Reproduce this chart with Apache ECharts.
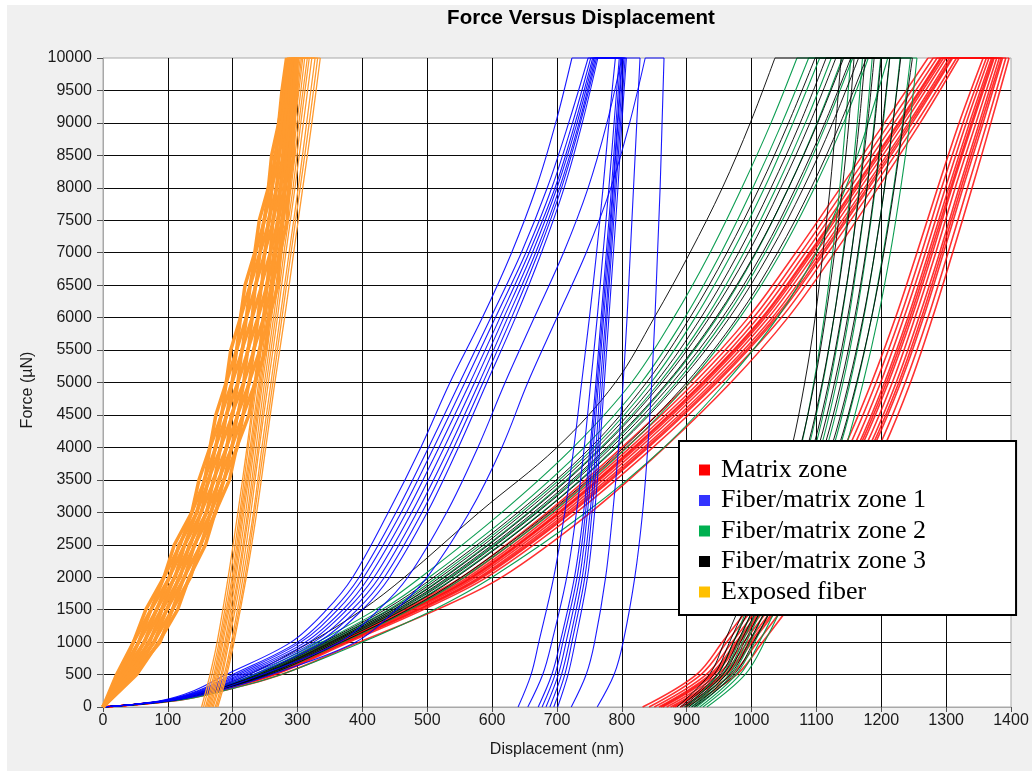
<!DOCTYPE html>
<html>
<head>
<meta charset="utf-8">
<title>Force Versus Displacement</title>
<script src="https://cdn.jsdelivr.net/npm/echarts@6/dist/echarts.min.js"></script>
<style>
  html, body { margin: 0; padding: 0; background: #ffffff; }
  #panel { position: absolute; left: 7px; top: 5px; width: 1025px; height: 766px; background: #f0f0f0; }
  #chart { position: absolute; left: 0; top: 0; width: 1032px; height: 771px; }
</style>
</head>
<body>
<div id="panel"></div>
<div id="chart"></div>
<script>
// ---- Force levels (µN) at which each curve's displacement (nm) is listed ----
const LOAD_F = [0, 100, 250, 500, 1000, 1500, 2000, 3000, 4000, 5000, 6000, 7000, 8000, 9000, 10000];
const UNLOAD_F = [0, 500, 1000, 2000, 3000, 4000, 5000, 6000, 7000, 8000, 9000, 10000];
const FIBER_LOAD_F = [0, 500, 1000, 1500, 2000, 2500, 3000, 3500, 4000, 4500, 5000,
                      5500, 6000, 6500, 7000, 7500, 8000, 8500, 9000, 9500, 10000];
const PEAK_FORCE = 10000;

// ---- Matrix zone: loading / unloading displacements (nm) ----
const matrixLoad = [
  [0, 100, 163, 245, 352, 460, 553, 685, 800, 905, 995, 1068, 1137, 1205, 1272],
  [0, 101, 165, 248, 356, 465, 558, 691, 807, 912, 1003, 1076, 1145, 1213, 1280],
  [0, 103, 167, 251, 360, 469, 563, 697, 813, 919, 1010, 1083, 1152, 1220, 1286],
  [0, 104, 168, 253, 363, 473, 567, 702, 818, 924, 1016, 1089, 1158, 1226, 1291],
  [0, 104, 169, 254, 365, 475, 569, 704, 820, 926, 1018, 1091, 1160, 1228, 1293],
  [0, 105, 170, 255, 366, 476, 571, 706, 823, 929, 1021, 1094, 1163, 1231, 1296],
  [0, 106, 171, 257, 369, 480, 575, 711, 828, 934, 1026, 1099, 1168, 1236, 1300],
  [0, 107, 173, 260, 372, 484, 580, 716, 834, 940, 1032, 1105, 1174, 1242, 1305],
  [0, 107, 174, 261, 374, 486, 583, 720, 838, 944, 1036, 1109, 1178, 1245, 1308],
  [0, 108, 175, 263, 376, 489, 586, 723, 841, 947, 1039, 1112, 1181, 1248, 1310],
  [0, 110, 177, 266, 380, 494, 592, 730, 848, 954, 1046, 1118, 1187, 1254, 1316],
  [0, 115, 185, 275, 395, 515, 615, 752, 866, 968, 1056, 1128, 1195, 1260, 1320]
];
const matrixUnload = [
  [832, 915, 955, 1030, 1092, 1143, 1185, 1222, 1255, 1287, 1320, 1357],
  [842, 922, 962, 1037, 1099, 1150, 1192, 1229, 1262, 1293, 1326, 1362],
  [850, 930, 970, 1044, 1106, 1157, 1199, 1235, 1268, 1299, 1331, 1366],
  [857, 936, 976, 1050, 1112, 1163, 1205, 1241, 1273, 1304, 1336, 1370],
  [860, 939, 979, 1053, 1115, 1166, 1208, 1244, 1276, 1307, 1339, 1372],
  [863, 942, 982, 1056, 1118, 1169, 1211, 1247, 1279, 1309, 1341, 1374],
  [869, 948, 988, 1062, 1124, 1175, 1217, 1252, 1284, 1314, 1346, 1378],
  [875, 954, 994, 1068, 1130, 1181, 1223, 1258, 1290, 1320, 1351, 1382],
  [879, 958, 998, 1072, 1134, 1185, 1227, 1262, 1293, 1323, 1354, 1385],
  [882, 961, 1001, 1075, 1137, 1188, 1230, 1265, 1296, 1326, 1357, 1387],
  [890, 969, 1009, 1083, 1145, 1196, 1237, 1272, 1303, 1333, 1363, 1392],
  [898, 977, 1017, 1091, 1153, 1204, 1245, 1279, 1310, 1340, 1369, 1397]
];

// ---- Fiber/matrix zone 1 ----
const zone1Load = [
  [0, 90, 140, 190, 290, 345, 385, 440, 490, 535, 585, 630, 668, 698, 723],
  [0, 93, 146, 200, 300, 355, 395, 452, 502, 550, 598, 645, 685, 718, 748],
  [0, 95, 149, 205, 305, 362, 402, 460, 510, 558, 605, 652, 692, 724, 752],
  [0, 96, 152, 210, 312, 370, 410, 468, 518, 566, 612, 657, 697, 728, 755],
  [0, 97, 155, 215, 318, 376, 418, 476, 526, 573, 618, 662, 700, 731, 757],
  [0, 98, 158, 220, 325, 384, 426, 484, 534, 580, 624, 667, 704, 734, 759],
  [0, 99, 161, 225, 332, 392, 434, 492, 541, 586, 630, 671, 707, 736, 761],
  [0, 101, 165, 232, 340, 400, 442, 500, 548, 592, 636, 676, 711, 739, 763],
  [0, 105, 172, 245, 365, 425, 470, 530, 578, 620, 665, 710, 748, 777, 800],
  [0, 108, 180, 260, 390, 452, 500, 565, 615, 655, 700, 745, 783, 812, 836]
];
const zone1Unload = [
  [640, 660, 672, 695, 712, 726, 738, 750, 761, 771, 780, 790],
  [655, 678, 692, 715, 730, 742, 752, 762, 771, 780, 788, 796],
  [671, 692, 705, 727, 741, 751, 760, 768, 776, 784, 791, 798],
  [677, 697, 709, 731, 744, 753, 762, 770, 778, 786, 793, 800],
  [683, 702, 714, 735, 747, 756, 764, 772, 780, 787, 794, 801],
  [689, 707, 719, 739, 751, 760, 767, 775, 782, 789, 796, 803],
  [695, 712, 723, 743, 754, 763, 770, 777, 784, 791, 798, 805],
  [701, 717, 728, 747, 758, 766, 773, 780, 787, 794, 800, 807],
  [722, 745, 758, 775, 786, 795, 802, 808, 813, 818, 823, 828],
  [762, 788, 802, 820, 832, 840, 846, 851, 855, 859, 862, 865]
];

// ---- Fiber/matrix zone 2 ----
const zone2Load = [
  [0, 99, 160, 232, 330, 420, 490, 615, 725, 815, 880, 936, 985, 1030, 1070],
  [0, 100, 162, 236, 337, 430, 503, 632, 742, 830, 897, 953, 1002, 1047, 1088],
  [0, 102, 164, 240, 343, 440, 515, 645, 757, 845, 913, 970, 1020, 1064, 1105],
  [0, 103, 166, 244, 348, 447, 525, 656, 768, 858, 930, 988, 1038, 1083, 1123],
  [0, 104, 168, 248, 354, 454, 535, 668, 780, 872, 947, 1007, 1057, 1101, 1140],
  [0, 106, 170, 252, 360, 461, 543, 677, 790, 884, 960, 1021, 1072, 1116, 1156],
  [0, 108, 174, 258, 370, 473, 557, 693, 808, 904, 982, 1045, 1097, 1142, 1180],
  [0, 115, 186, 275, 400, 510, 600, 745, 865, 960, 1040, 1100, 1145, 1180, 1210]
];
const zone2Unload = [
  [898, 948, 972, 1012, 1048, 1076, 1096, 1112, 1125, 1136, 1145, 1153],
  [903, 955, 980, 1022, 1058, 1088, 1110, 1127, 1141, 1153, 1163, 1171],
  [907, 960, 986, 1030, 1067, 1098, 1121, 1139, 1154, 1166, 1177, 1186],
  [911, 965, 992, 1037, 1075, 1107, 1131, 1150, 1165, 1178, 1189, 1199],
  [915, 970, 998, 1044, 1083, 1116, 1141, 1161, 1177, 1191, 1203, 1213],
  [920, 976, 1005, 1052, 1092, 1126, 1152, 1173, 1190, 1205, 1218, 1229],
  [925, 982, 1012, 1060, 1101, 1136, 1163, 1185, 1203, 1219, 1233, 1245],
  [931, 990, 1020, 1068, 1110, 1145, 1172, 1195, 1214, 1230, 1244, 1255]
];

// ---- Fiber/matrix zone 3 ----
const zone3Load = [
  [0, 98, 158, 225, 320, 400, 465, 580, 700, 790, 850, 905, 955, 998, 1036],
  [0, 102, 164, 238, 340, 435, 510, 640, 752, 838, 905, 962, 1012, 1057, 1098],
  [0, 103, 166, 242, 345, 443, 520, 650, 762, 852, 922, 980, 1030, 1075, 1115],
  [0, 104, 167, 245, 350, 448, 527, 658, 770, 862, 935, 995, 1045, 1090, 1130],
  [0, 104, 168, 247, 353, 452, 532, 664, 777, 870, 945, 1006, 1057, 1102, 1142],
  [0, 105, 169, 250, 357, 457, 538, 670, 784, 878, 955, 1017, 1068, 1113, 1153],
  [0, 106, 171, 253, 362, 463, 545, 678, 792, 888, 966, 1028, 1080, 1125, 1165],
  [0, 107, 173, 257, 368, 470, 553, 688, 803, 900, 978, 1040, 1092, 1137, 1177]
];
const zone3Unload = [
  [885, 935, 958, 1000, 1035, 1062, 1082, 1098, 1110, 1121, 1130, 1138],
  [890, 942, 966, 1010, 1046, 1075, 1097, 1114, 1128, 1140, 1150, 1158],
  [893, 947, 972, 1018, 1055, 1086, 1109, 1127, 1142, 1155, 1166, 1175],
  [896, 952, 978, 1025, 1063, 1095, 1119, 1138, 1154, 1167, 1179, 1189],
  [899, 956, 983, 1031, 1070, 1103, 1128, 1148, 1164, 1178, 1190, 1200],
  [903, 961, 989, 1038, 1078, 1112, 1138, 1159, 1176, 1190, 1202, 1213],
  [908, 967, 996, 1046, 1088, 1123, 1150, 1172, 1190, 1205, 1218, 1230],
  [912, 973, 1003, 1055, 1098, 1134, 1162, 1185, 1204, 1220, 1234, 1248]
];

// ---- Exposed fiber (noisy loading records) ----
const fiberLoad = [
  [0, 21, 47, 66, 94, 110, 137, 148, 165, 174, 190, 197, 212, 219, 234, 241, 255, 260, 271, 276, 283],
  [0, 27, 47, 74, 94, 119, 137, 157, 165, 183, 190, 206, 212, 227, 235, 249, 255, 267, 271, 280, 284],
  [0, 26, 55, 74, 103, 117, 145, 156, 174, 182, 199, 206, 221, 227, 242, 248, 261, 265, 276, 280, 286],
  [0, 32, 55, 83, 102, 126, 144, 164, 173, 191, 199, 215, 221, 236, 242, 257, 260, 272, 276, 284, 287],
  [0, 30, 64, 82, 111, 126, 152, 162, 182, 190, 208, 214, 230, 235, 250, 255, 268, 271, 281, 283, 289],
  [0, 37, 63, 90, 110, 135, 151, 172, 181, 200, 208, 224, 230, 245, 249, 263, 267, 278, 280, 288, 290],
  [0, 35, 72, 91, 119, 133, 160, 170, 191, 198, 217, 223, 239, 244, 258, 262, 274, 277, 286, 287, 292],
  [0, 43, 70, 99, 117, 142, 159, 180, 190, 208, 217, 233, 239, 253, 258, 270, 273, 283, 285, 292, 293],
  [0, 40, 79, 98, 126, 141, 167, 178, 199, 207, 226, 232, 248, 252, 266, 269, 281, 282, 290, 291, 295],
  [0, 48, 78, 107, 125, 151, 166, 187, 198, 216, 225, 242, 247, 261, 265, 277, 280, 289, 290, 295, 296],
  [0, 46, 88, 107, 135, 150, 174, 186, 207, 216, 235, 241, 257, 261, 273, 276, 288, 287, 295, 294, 298],
  [0, 52, 86, 115, 133, 158, 173, 195, 206, 225, 234, 251, 256, 270, 273, 284, 286, 294, 294, 299, 299]
];
const fiberUnload = [
  [152, 165, 176, 193, 208, 222, 235, 248, 262, 275, 287, 300],
  [155, 168, 179, 196, 211, 224, 237, 251, 264, 277, 290, 302],
  [158, 171, 181, 199, 213, 227, 240, 253, 266, 279, 292, 304],
  [160, 173, 183, 201, 215, 229, 242, 255, 268, 281, 294, 306],
  [162, 175, 185, 203, 217, 231, 244, 257, 270, 283, 296, 308],
  [164, 177, 188, 205, 220, 233, 246, 260, 273, 286, 299, 311],
  [166, 179, 190, 208, 223, 236, 249, 263, 276, 290, 302, 315],
  [168, 182, 192, 210, 225, 239, 252, 266, 279, 293, 305, 318],
  [170, 184, 194, 213, 228, 241, 255, 269, 282, 296, 309, 322],
  [173, 187, 198, 216, 232, 245, 259, 273, 287, 301, 314, 327],
  [175, 189, 200, 219, 234, 248, 262, 276, 290, 304, 318, 331],
  [177, 191, 202, 221, 237, 251, 265, 280, 294, 308, 322, 335]
];

// ---- Groups: drawing order, line colours and legend swatches ----
const groups = [
  { name: 'Matrix zone',          load: matrixLoad, unload: matrixUnload, loadF: LOAD_F,
    line: '#ff0d0d', swatch: '#ff0000', width: 1.5, unloadWidth: 1.6, smooth: 0.35, opacity: 0.85 },
  { name: 'Fiber/matrix zone 2',  load: zone2Load,  unload: zone2Unload,  loadF: LOAD_F,
    line: '#00994a', swatch: '#00b050', width: 1.1, unloadWidth: 1.1, smooth: 0.35, opacity: 0.95 },
  { name: 'Fiber/matrix zone 3',  load: zone3Load,  unload: zone3Unload,  loadF: LOAD_F,
    line: '#000000', swatch: '#000000', width: 1, unloadWidth: 1, smooth: 0.35, opacity: 0.9 },
  { name: 'Fiber/matrix zone 1',  load: zone1Load,  unload: zone1Unload,  loadF: LOAD_F,
    line: '#0000ff', swatch: '#3333ff', width: 1.1, unloadWidth: 1.1, smooth: 0.35, opacity: 0.9 },
  { name: 'Exposed fiber',        load: fiberLoad,  unload: fiberUnload,  loadF: FIBER_LOAD_F,
    line: '#ff9a2e', swatch: '#ffc000', width: 3.5, unloadWidth: 1.3, smooth: false, opacity: 1 }
];
const legendOrder = ['Matrix zone', 'Fiber/matrix zone 1', 'Fiber/matrix zone 2',
                     'Fiber/matrix zone 3', 'Exposed fiber'];

function lineSeries(name, color, width, opacity, data, smooth, clip) {
  return {
    type: 'line', name: name, data: data,
    showSymbol: false, symbol: 'none', smooth: smooth, clip: clip,
    silent: true, animation: false,
    itemStyle: { color: color },
    lineStyle: { color: color, width: width, opacity: opacity }
  };
}

const series = [];
groups.forEach(function (g) {
  g.load.forEach(function (xs, i) {
    const ux = g.unload[i];
    const loadData = g.loadF.map(function (f, j) { return [xs[j], f]; });
    const holdData = [[xs[xs.length - 1], PEAK_FORCE], [ux[ux.length - 1], PEAK_FORCE]];
    const unloadData = UNLOAD_F.map(function (f, j) { return [ux[j], f]; });
    series.push(lineSeries(g.name, g.line, g.width, g.opacity, loadData, g.smooth, true));
    series.push(lineSeries(g.name, g.line, 1, g.opacity, holdData, false, false));
    series.push(lineSeries(g.name, g.line, g.unloadWidth, g.opacity, unloadData, 0.35, true));
  });
});

const sansFont = '"Liberation Sans", Arial, sans-serif';
const plainNumber = function (v) { return String(v); };
const chart = echarts.init(document.getElementById('chart'), null, { renderer: 'canvas' });
chart.setOption({
  backgroundColor: 'transparent',
  animation: false,
  grid: {
    left: 103, top: 58, right: 21, bottom: 64,
    show: true, backgroundColor: '#ffffff', borderColor: '#a8a8a8', borderWidth: 1
  },
  xAxis: {
    type: 'value', min: 0, max: 1400, interval: 100,
    axisLine: { show: true, onZero: false, lineStyle: { color: '#a8a8a8' } },
    axisTick: { show: true, length: 5, lineStyle: { color: '#505050' } },
    axisLabel: { fontFamily: sansFont, fontSize: 16, color: '#1a1a1a', margin: 6,
                 formatter: plainNumber },
    splitLine: { show: true, showMinLine: false, showMaxLine: false,
                 lineStyle: { color: '#0a0a0a', width: 1 } }
  },
  yAxis: {
    type: 'value', min: 0, max: 10000, interval: 500,
    axisLine: { show: true, onZero: false, lineStyle: { color: '#a8a8a8' } },
    axisTick: { show: true, length: 6, lineStyle: { color: '#505050' } },
    axisLabel: { fontFamily: sansFont, fontSize: 16, color: '#1a1a1a', margin: 11,
                 formatter: plainNumber },
    splitLine: { show: true, showMinLine: false, showMaxLine: false,
                 lineStyle: { color: '#0a0a0a', width: 1 } }
  },
  legend: {
    show: true, orient: 'vertical', left: 679, top: 441,
    icon: 'rect', itemWidth: 11, itemHeight: 11, itemGap: 4.5,
    padding: [16, 90, 10, 20],
    backgroundColor: '#ffffff', borderColor: '#000000', borderWidth: 2, borderRadius: 0,
    selectedMode: false,
    textStyle: { fontFamily: '"Liberation Serif", "Times New Roman", serif', fontSize: 26,
                 color: '#000000', lineHeight: 26, padding: [0, 0, 0, 6] },
    data: legendOrder.map(function (n) {
      const g = groups.find(function (x) { return x.name === n; });
      return { name: n, itemStyle: { color: g.swatch } };
    })
  },
  graphic: [
    { type: 'text', x: 581, y: 18, z: 10,
      style: { text: 'Force Versus Displacement', font: 'bold 20.5px ' + sansFont,
               fill: '#000', align: 'center', verticalAlign: 'middle' } },
    { type: 'text', x: 557, y: 750, z: 10,
      style: { text: 'Displacement (nm)', font: '16px ' + sansFont,
               fill: '#1a1a1a', align: 'center', verticalAlign: 'middle' } },
    { type: 'text', x: 28, y: 390, rotation: Math.PI / 2, z: 10,
      style: { text: 'Force (µN)', font: '16px ' + sansFont,
               fill: '#1a1a1a', align: 'center', verticalAlign: 'middle' } }
  ],
  series: series
});
</script>
</body>
</html>
